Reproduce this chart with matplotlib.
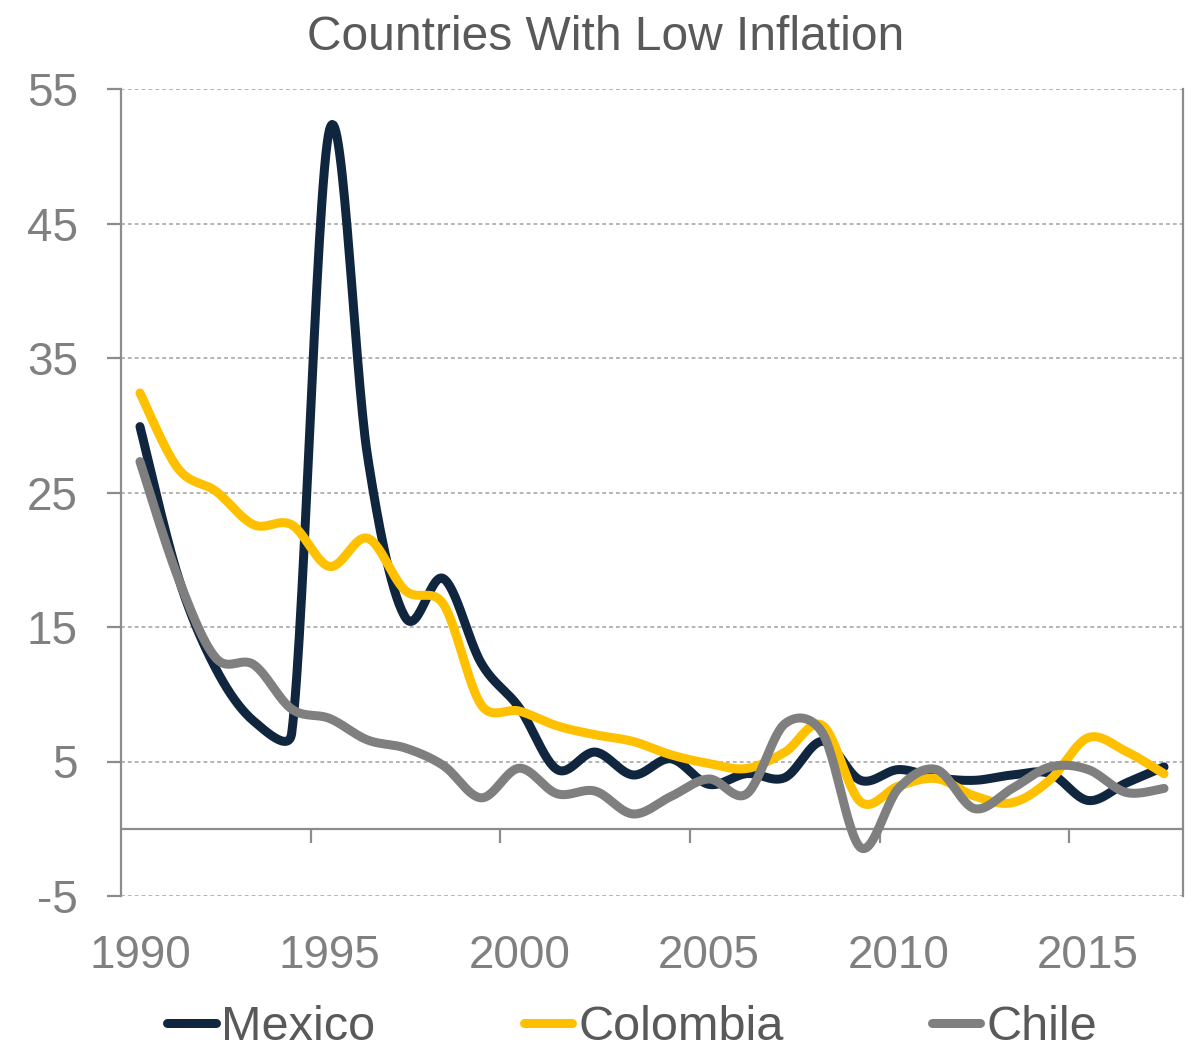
import numpy as np
import matplotlib
matplotlib.use("Agg")
import matplotlib.pyplot as plt
from matplotlib.lines import Line2D

plt.rcParams['font.family'] = ['Liberation Sans', 'DejaVu Sans']

# Annual inflation, December over December (%)
years = list(range(1990, 2018))
mexico = [29.9, 18.8, 11.9, 8.0, 7.1, 52.0, 27.7, 15.7, 18.6, 12.3,
          9.0, 4.4, 5.7, 4.0, 5.2, 3.3, 4.1, 3.8, 6.5, 3.6,
          4.4, 3.8, 3.6, 4.0, 4.1, 2.1, 3.4, 4.6]
colombia = [32.4, 26.8, 25.1, 22.6, 22.6, 19.5, 21.6, 17.7, 16.7, 9.2,
            8.75, 7.65, 6.99, 6.49, 5.5, 4.85, 4.48, 5.69, 7.67, 2.0,
            3.17, 3.73, 2.44, 1.94, 3.66, 6.77, 5.75, 4.09]
chile = [27.3, 18.7, 12.7, 12.2, 8.9, 8.2, 6.6, 6.0, 4.7, 2.3,
         4.5, 2.6, 2.8, 1.1, 2.4, 3.7, 2.6, 7.8, 7.1, -1.4,
         3.0, 4.4, 1.5, 3.0, 4.6, 4.4, 2.7, 3.0]
series_names = ["Mexico", "Colombia", "Chile"]
series_colors = ["#10263F", "#FFC000", "#7F7F7F"]
year_labels = ["1990", "1995", "2000", "2005", "2010", "2015"]
y_ticks = [-5, 5, 15, 25, 35, 45, 55]

FIG_W, FIG_H = 1192, 1049
AX_L, AX_R, AX_T, AX_B = 121, 1183, 89, 896
XLIM = (-0.5, len(years) - 0.5)
YLIM = (-5, 55)
PX_X = (AX_R - AX_L) / (XLIM[1] - XLIM[0])
PX_Y = (AX_B - AX_T) / (YLIM[1] - YLIM[0])


def smooth(x, y, steps=30):
    """Bezier smoothing with tangents capped at half the segment length
    (measured on screen), as spreadsheet 'smoothed line' charts do."""
    P = np.column_stack([np.asarray(x, float) * PX_X, np.asarray(y, float) * PX_Y])
    P = np.vstack([P[0], P, P[-1]])
    t = np.linspace(0, 1, steps, endpoint=False)[:, None]
    out = []
    f = 1 / 6
    for i in range(1, len(P) - 2):
        p0, p1, p2, p3 = P[i - 1], P[i], P[i + 1], P[i + 2]
        d12 = np.linalg.norm(p2 - p1)
        a = p2 - p0
        b = p3 - p1
        la, lb = np.linalg.norm(a), np.linalg.norm(b)
        f1 = f if la * f <= d12 / 2 or la == 0 else (d12 / 2) / la
        f2 = f if lb * f <= d12 / 2 or lb == 0 else (d12 / 2) / lb
        c1 = p1 + f1 * a
        c2 = p2 - f2 * b
        seg = ((1 - t) ** 3) * p1 + 3 * ((1 - t) ** 2) * t * c1 \
            + 3 * (1 - t) * t ** 2 * c2 + t ** 3 * p2
        out.append(seg)
    out.append(P[-2][None, :])
    pts = np.vstack(out)
    return pts[:, 0] / PX_X, pts[:, 1] / PX_Y


fig = plt.figure(figsize=(FIG_W / 100, FIG_H / 100), dpi=100)
ax = fig.add_axes([AX_L / FIG_W, 1 - AX_B / FIG_H,
                   (AX_R - AX_L) / FIG_W, (AX_B - AX_T) / FIG_H])

axis_gray = "#8C8C8C"
pos = np.arange(len(years))

lw = 9 * 72 / 100
for vals, name, col in zip([mexico, colombia, chile], series_names, series_colors):
    sx, sy = smooth(pos, vals)
    ax.plot(sx, sy, color=col, lw=lw, solid_capstyle='round',
            solid_joinstyle='round', label=name, zorder=3)

ax.set_xlim(*XLIM)
ax.set_ylim(*YLIM)

# dotted horizontal gridlines
for v in y_ticks:
    ax.axhline(v, color="#A0A0A0", lw=1.1, ls=(0, (2.5, 2)), zorder=1)

# category axis on the zero line
ax.axhline(0, color=axis_gray, lw=1.6, zorder=2)
for b in np.arange(4.5, len(years) - 1, 5):
    ax.plot([b, b], [0, -14 / PX_Y], color=axis_gray, lw=1.6, zorder=2,
            solid_capstyle='butt')

for side in ["top", "bottom"]:
    ax.spines[side].set_visible(False)
for side in ["left", "right"]:
    ax.spines[side].set_color(axis_gray)
    ax.spines[side].set_linewidth(1.6)

ax.set_yticks(y_ticks)
ax.set_yticklabels([str(v) for v in y_ticks])
ax.tick_params(axis='y', length=10, width=1.6, color=axis_gray, pad=21,
               labelsize=33, labelcolor="#808080")

label_years = [int(s) for s in year_labels]
ax.set_xticks([years.index(yv) for yv in label_years])
ax.set_xticklabels(year_labels)
ax.tick_params(axis='x', length=0, pad=27, labelsize=33, labelcolor="#808080")

fig.text(606 / FIG_W, 1 - 38 / FIG_H, "Countries With Low Inflation",
         ha='center', va='center', fontsize=34.5, color="#595959")

handles = [Line2D([0], [0], color=c, lw=lw, solid_capstyle='round')
           for c in series_colors]
leg = fig.legend(handles, series_names, ncol=3, loc='center',
                 bbox_to_anchor=(632 / FIG_W, 1 - 1028 / FIG_H),
                 frameon=False, fontsize=35, handlelength=1.0,
                 handletextpad=0.12, columnspacing=3.05, borderpad=0)
for t in leg.get_texts():
    t.set_color("#595959")

fig.savefig("out.png", dpi=100, facecolor="white")
